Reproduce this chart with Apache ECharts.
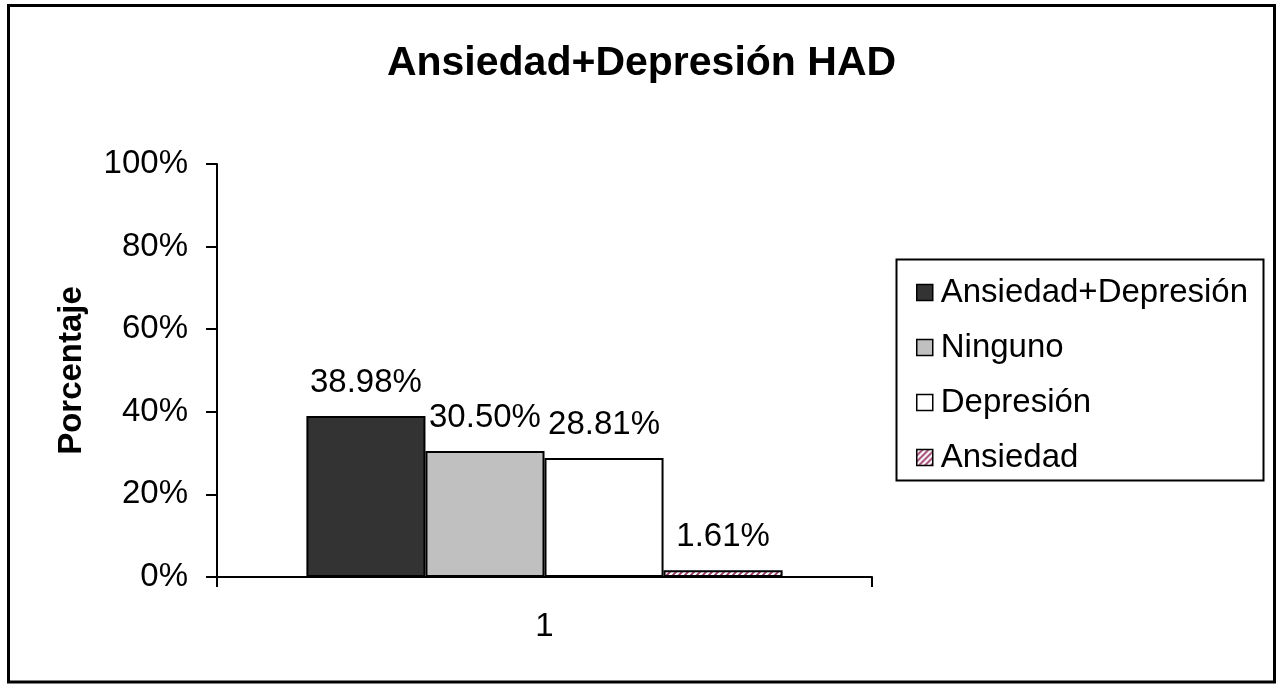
<!DOCTYPE html>
<html>
<head>
<meta charset="utf-8">
<script src="https://cdn.jsdelivr.net/npm/echarts@6/dist/echarts.min.js"></script>
<style>
html,body{margin:0;padding:0;background:#fff;}
#c{width:1283px;height:684px;}
</style>
</head>
<body>
<div id="c"></div>
<script>
var categories = ['1'];
var seriesNames = ['Ansiedad+Depresión', 'Ninguno', 'Depresión', 'Ansiedad'];
var seriesValues = [[38.98], [30.50], [28.81], [1.61]];
var yTicks = [0, 20, 40, 60, 80, 100];
var titleText = 'Ansiedad+Depresión HAD';
var yAxisName = 'Porcentaje';

var FONT = '"Liberation Sans", Arial, sans-serif';

// hatch pattern for "Ansiedad"
var pc = document.createElement('canvas');
pc.width = 6; pc.height = 6;
var pctx = pc.getContext('2d');
pctx.fillStyle = '#ffffff';
pctx.fillRect(0, 0, 6, 6);
pctx.strokeStyle = '#993366';
pctx.lineWidth = 1.8;
pctx.beginPath();
pctx.moveTo(-1, 7); pctx.lineTo(7, -1);
pctx.moveTo(-4, 4); pctx.lineTo(4, -4);
pctx.moveTo(2, 10); pctx.lineTo(10, 2);
pctx.stroke();

var fills = ['#333333', '#c0c0c0', '#ffffff', {image: pc, repeat: 'repeat'}];

var chart = echarts.init(document.getElementById('c'), null, {renderer: 'canvas'});

var series = seriesNames.map(function (name, i) {
  return {
    name: name,
    type: 'bar',
    data: seriesValues[i],
    barGap: '0%',
    barCategoryGap: '27.3%',
    itemStyle: {color: fills[i], borderColor: '#000', borderWidth: 2},
    label: {
      show: true,
      position: 'top',
      distance: 17,
      color: '#000',
      fontFamily: FONT,
      fontSize: 33,
      formatter: function (p) { return p.value.toFixed(2) + '%'; }
    },
    emphasis: {disabled: true},
    animation: false
  };
});

chart.setOption({
  animation: false,
  backgroundColor: '#fff',
  title: {
    text: titleText,
    left: 'center',
    top: 38,
    textStyle: {fontFamily: FONT, fontSize: 41, fontWeight: 'bold', color: '#000'}
  },
  grid: {left: 217, right: 411, top: 164, bottom: 107, containLabel: false},
  legend: {
    orient: 'vertical',
    left: 911,
    top: 271,
    itemWidth: 16,
    itemHeight: 16,
    itemGap: 22,
    selectedMode: false,
    icon: 'rect',
    itemStyle: {borderColor: '#000', borderWidth: 1.5},
    textStyle: {fontFamily: FONT, fontSize: 33, color: '#000', padding: [0, 0, 0, 3]},
    data: seriesNames
  },
  xAxis: {
    type: 'category',
    data: categories,
    axisLine: {lineStyle: {color: '#000', width: 2}},
    axisTick: {show: true, length: 10, lineStyle: {color: '#000', width: 2}},
    axisLabel: {color: '#000', fontFamily: FONT, fontSize: 33, margin: 33}
  },
  yAxis: {
    type: 'value',
    min: yTicks[0],
    max: yTicks[yTicks.length - 1],
    interval: yTicks[1] - yTicks[0],
    name: yAxisName,
    nameLocation: 'middle',
    nameGap: 129,
    nameTextStyle: {fontFamily: FONT, fontSize: 33, fontWeight: 'bold', color: '#000'},
    splitLine: {show: false},
    axisLine: {show: true, lineStyle: {color: '#000', width: 2}},
    axisTick: {show: true, length: 11, lineStyle: {color: '#000', width: 2}},
    axisLabel: {color: '#000', fontFamily: FONT, fontSize: 33, margin: 29, formatter: '{value}%'}
  },
  series: series,
  graphic: [
    {
      type: 'rect',
      shape: {x: 8.5, y: 5.5, width: 1266, height: 676.5},
      style: {fill: 'none', stroke: '#000', lineWidth: 3},
      silent: true, z: 100
    },
    {
      type: 'rect',
      shape: {x: 896.5, y: 259.5, width: 367, height: 221},
      style: {fill: 'none', stroke: '#000', lineWidth: 2},
      silent: true, z: 100
    }
  ]
});
</script>
</body>
</html>
